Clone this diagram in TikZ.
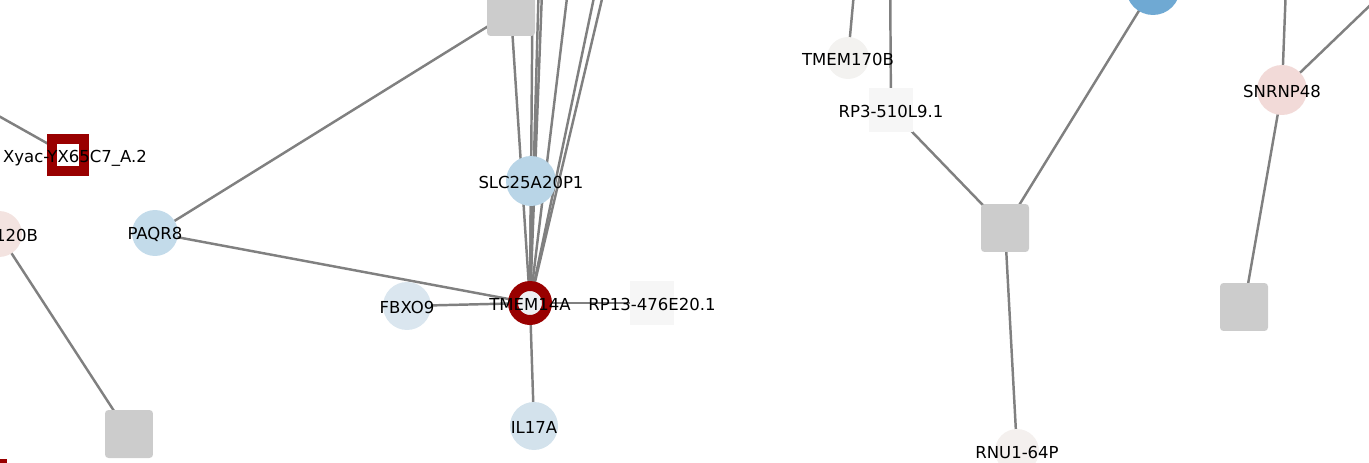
\documentclass[tikz,border=0pt]{standalone}
\usepackage{fontspec}
\setmainfont{DejaVu Sans}
\usepackage{xcolor}
\definecolor{Edge Grey}{HTML}{808080}
\definecolor{Box Grey}{HTML}{CCCCCC}
\definecolor{Dark Red}{HTML}{990000}
\definecolor{Pale Box}{HTML}{F6F6F6}
\definecolor{Deep Blue}{HTML}{6FA9D3}
\colorlet{cEdge}{Edge Grey}
\colorlet{cBox}{Box Grey}
\colorlet{cRed}{Dark Red}
\colorlet{cPale}{Pale Box}
\colorlet{cBlue}{Deep Blue}
\definecolor{cSlc}{HTML}{B9D5E7}
\definecolor{cPaq}{HTML}{C3DBEA}
\definecolor{cFbx}{HTML}{DAE6EF}
\definecolor{cIl}{HTML}{D3E2EC}
\definecolor{cTm}{HTML}{F3F2F0}
\definecolor{cSnr}{HTML}{F2DAD8}
\definecolor{cRnu}{HTML}{F4F0EE}
\definecolor{cPink}{HTML}{F3E3E0}
\definecolor{cInner}{HTML}{EEF0F2}
\usepackage{tikz}
\usetikzlibrary{positioning}
\pgfdeclarelayer{background}
\pgfsetlayers{background,main}
\tikzset{
	x=0.02cm, y=-0.02cm,
	font = \fontsize{9.4}{11}\selectfont,
	every label/.append style={yshift=-0.03cm},
	vertex/.style={
		circle,
		inner sep=0pt,
		minimum size=#1
	},
	vertex/.default={0.96cm},
	gbox/.style={
		rectangle,
		rounded corners=2pt,
		fill=cBox,
		inner sep=0pt,
		minimum size=0.96cm
	},
	pbox/.style={
		rectangle,
		fill=cPale,
		inner sep=0pt,
		minimum size=0.88cm
	},
	edge/.style={
		draw=cEdge,
		line width=1.4pt
	}
}

\begin{document}
\begin{tikzpicture}
		\useasboundingbox (0,0) rectangle (1369,463);

		% left part
		\node[vertex=0.92cm, fill=cPink, label={[xshift=-0.14cm]center:TMEM120B}] at (-1,234) (tm120) {};
		\node[rectangle, draw=cRed, fill=white, line width=5.67pt, inner sep=0pt, minimum size=0.64cm,
			label={[xshift=0.14cm, yshift=-0.03cm]center:Xyac-YX65C7\_A.2}] at (68,155) (xyac) {};
		\node[vertex=0.92cm, fill=cPaq, label={center:PAQR8}] at (155,233) (paqr) {};
		\node[gbox] at (129,434) (g1) {};
		\fill[cRed] (-5,459) rectangle (7,475);

		% TMEM14A hub
		\node[gbox] at (511,12) (g0) {};
		\node[vertex=1cm, fill=cSlc, label={center:SLC25A20P1}] at (531,181) (slc) {};
		\node[vertex=0.68cm, draw=cRed, fill=cInner, line width=5.67pt, label={center:TMEM14A}] at (530,303) (hub) {};
		\node[vertex, fill=cFbx, label={center:FBXO9}] at (407,306) (fbxo) {};
		\node[vertex, fill=cIl, label={center:IL17A}] at (534,426) (il17) {};
		\node[pbox, label={center:RP13-476E20.1}] at (652,303) (rp13) {};

		% right part
		\node[vertex=0.84cm, fill=cTm, label={center:TMEM170B}] at (848,58) (tm170) {};
		\node[pbox, label={center:RP3-510L9.1}] at (891,110) (rp3) {};
		\node[gbox] at (1005,228) (g2) {};
		\node[vertex=1.08cm, fill=cBlue] at (1153,-12) (blue) {};
		\node[vertex=0.88cm, fill=cRnu, label={center:RNU1-64P}] at (1017,451) (rnu) {};
		\node[vertex=1cm, fill=cSnr, label={center:SNRNP48}] at (1282,90) (snr) {};
		\node[gbox] at (1244,307) (g3) {};

		% loose ends leaving the frame
		\coordinate (o1) at (-60,83);
		\coordinate (o2) at (533,-60);
		\coordinate (o3) at (540,-60);
		\coordinate (o4) at (544,-60);
		\coordinate (o5) at (574,-60);
		\coordinate (o6) at (606,-60);
		\coordinate (o7) at (616,-60);
		\coordinate (o8) at (857,-40);
		\coordinate (o9) at (890,-40);
		\coordinate (o10) at (1287,-40);
		\coordinate (o11) at (1410,-33);

		\begin{pgfonlayer}{background}
			\draw[edge] (xyac.center) -- (o1);
			\draw[edge] (tm120.center) -- (g1.center);
			\draw[edge] (paqr.center) -- (g0.center);
			\draw[edge] (paqr.center) -- (hub.center);
			\draw[edge] (fbxo.center) -- (hub.center);
			\draw[edge] (rp13.center) -- (hub.center);
			\draw[edge] (il17.center) -- (hub.center);
			\draw[edge] (slc.center) -- (hub.center);
			\draw[edge] (g0.center) -- (hub.center);
			\foreach \o in {o2,o3,o4,o5,o6,o7}
				\draw[edge] (hub.center) -- (\o);
			\draw[edge] (tm170.center) -- (o8);
			\draw[edge] (rp3.center) -- (o9);
			\draw[edge] (rp3.center) -- (g2.center);
			\draw[edge] (g2.center) -- (blue.center);
			\draw[edge] (g2.center) -- (rnu.center);
			\draw[edge] (snr.center) -- (o10);
			\draw[edge] (snr.center) -- (o11);
			\draw[edge] (snr.center) -- (g3.center);
		\end{pgfonlayer}
	\end{tikzpicture}
\end{document}
